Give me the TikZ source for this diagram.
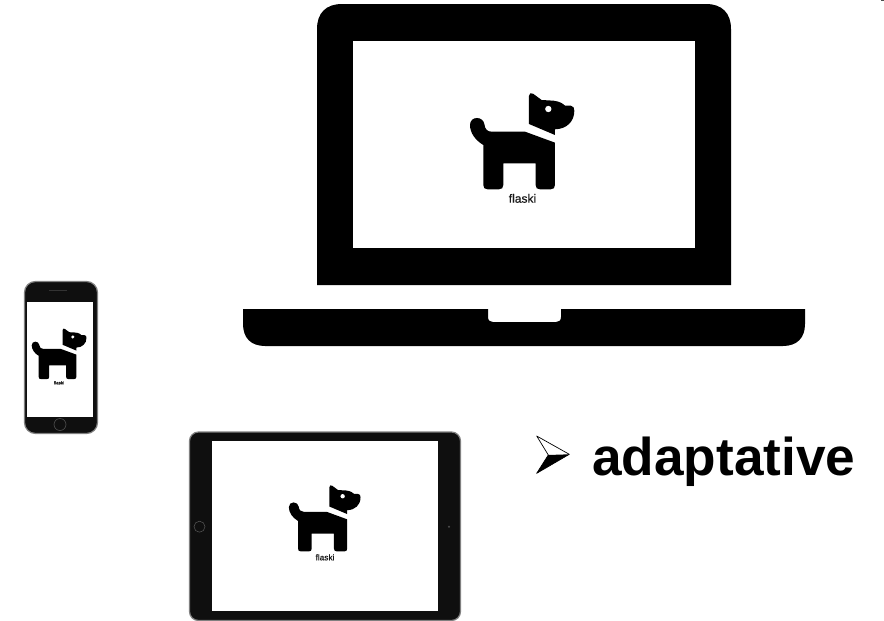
\documentclass[tikz,border=0pt]{standalone}
\usepackage{fontspec}
\setmainfont{Liberation Sans}
\newfontfamily\dogfont{Liberation Sans}[FakeBold=0.5]
\tikzset{
  dogmark/.pic={
    \fill[black] (100,195) .. controls (75,180) and (60,158) .. (60,135)
      .. controls (60,122) and (69,114) .. (81,114)
      .. controls (93,114) and (101,122) .. (103,132)
      .. controls (105,148) and (112,155) .. (125,155)
      -- (225,155) -- (315,188) -- (315,315)
      .. controls (315,324) and (310,328) .. (302,328) -- (270,328)
      .. controls (261,328) and (257,324) .. (257,315) -- (257,250) -- (160,250) -- (160,315)
      .. controls (160,324) and (155,328) .. (147,328) -- (113,328)
      .. controls (104,328) and (100,324) .. (100,315) -- cycle;
    \fill[black] (237,48) .. controls (237,40) and (243,37) .. (249,41) -- (275,60) -- (310,62)
      .. controls (330,64) and (340,72) .. (345,77) -- (362,77)
      .. controls (370,77) and (373,84) .. (373,92)
      .. controls (373,125) and (350,147) .. (315,148) -- (315,165) -- (237,132) -- cycle;
    \fill[white] (295,87) circle[radius=9.5];
  },
  dogtext/.style={inner sep=0pt,anchor=base,text=black!90},
  deviceedge/.style={draw=black!50,line width=1.2pt,fill=black!94},
}
\begin{document}
\begin{tikzpicture}[x=1pt,y=-1pt]
\useasboundingbox (0,0) rectangle (884,621);
\fill[white] (0,0) rectangle (884,621);
% laptop
\fill[black] (317,285) -- (317,29) .. controls (317,13) and (326,4) .. (342,4) -- (706,4)
  .. controls (722,4) and (731,13) .. (731,29) -- (731,285) -- cycle;
\fill[white] (353,41) rectangle (695,248);
\fill[black] (243,309) -- (488,309) -- (488,317) .. controls (488,320.5) and (490,322) .. (493,322)
  -- (556,322) .. controls (559,322) and (561,320.5) .. (561,317) -- (561,309) -- (805,309) -- (805,324)
  .. controls (805,338) and (797,346) .. (783,346) -- (265,346)
  .. controls (251,346) and (243,338) .. (243,324) -- cycle;
\pic[shift={(450,80)},scale=0.3333] {dogmark};
\node[dogtext,font=\dogfont\fontsize{12}{12}\selectfont] (flaskilaptop) at (522.5,202.7) {flaski};
% phone
\draw[deviceedge,rounded corners=11pt] (24.5,281.5) rectangle (97.5,433.5);
\fill[white] (27.3,301.7) rectangle (93.3,416.7);
\draw[black!65,line width=0.5pt] (60,424.5) circle[radius=6];
\fill[black!80] (49,290.3) rectangle (67,291);
\pic[shift={(21.2,321.7)},scale=0.175] {dogmark};
\node[dogtext,font=\dogfont\fontsize{4.4}{4.4}\selectfont] (flaskiphone) at (59,384.3) {flaski};
% tablet
\draw[deviceedge,rounded corners=9pt] (189.5,432) rectangle (460.5,620.5);
\fill[white] (211.7,440.7) rectangle (438.3,611);
\draw[black!65,line width=0.5pt] (199.5,526.7) circle[radius=5.5];
\fill[black!70] (449,526.7) circle[radius=1.2];
\pic[shift={(275.1,476.3)},scale=0.229] {dogmark};
\node[dogtext,font=\dogfont\fontsize{8.3}{8.3}\selectfont] (flaskitablet) at (325,560.3) {flaski};
% bullet and label
\fill[black] (548.3,455) -- (569.3,454.3) -- (536.7,473.3) -- cycle;
\draw[black,line width=0.7pt,line join=round] (536.7,436) -- (569.3,454.3) -- (536.7,473.3) -- (548.3,455) -- cycle;
\node[inner sep=0pt,anchor=base west,font=\fontsize{53.2}{53.2}\selectfont\bfseries] (adaptlabel) at (592,475) {adaptative};
% corner speck
\fill[black!70] (881,0) rectangle (884,1);
\end{tikzpicture}
\end{document}
